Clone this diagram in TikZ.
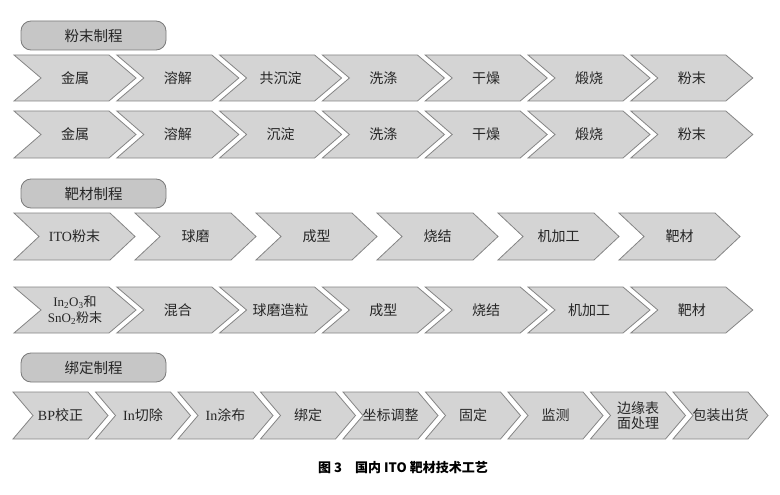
\documentclass[tikz,border=0pt]{standalone}
\usepackage{fontspec}
\setmainfont{Liberation Serif}
\newfontfamily\cjk{Noto Sans CJK SC}
\newcommand\lt[1]{{\rmfamily #1}}
\definecolor{chevfill}{HTML}{D4D4D4}
\definecolor{chevline}{HTML}{858585}
\definecolor{hdrfill}{HTML}{C6C6C6}
\definecolor{hdrline}{HTML}{7A7A7A}
\newcommand\chev[8][]{%
  \draw[chevbox] (#3,#4) -- ++(#5,0) -- ++(#6,#7/2) -- ++(-#6,#7/2) -- ++(-#5,0) -- ++(#6,-#7/2) -- cycle;
  \node[lbl,#1] (#2) at ({#3+(#5+#6)/2},{#4+#7/2}) {#8};}
\begin{document}
\begin{tikzpicture}[x=1pt,y=-1pt,
  chevbox/.style={draw=chevline, fill=chevfill, line width=0.8pt, line join=miter},
  lbl/.style={font=\cjk\fontsize{14}{15}\selectfont, inner sep=0pt, align=center, text=black!85},
  hdr/.style={draw=hdrline, fill=hdrfill, rounded corners=10pt, minimum width=145pt, minimum height=29pt, inner sep=0pt, line width=0.8pt, font=\cjk\fontsize{14.5}{15}\selectfont, text=black!85}]
\fill[white] (0,0) rectangle (780,495);
\useasboundingbox (0,0) rectangle (780,495);
% headers
\node[hdr] (h1) at (93.5,35.5) {粉末制程};
\node[hdr] (h2) at (93.5,193.5) {靶材制程};
\node[hdr] (h3) at (93.5,367.5) {绑定制程};
% row 1
\foreach \t [count=\i from 0] in {金属,溶解,共沉淀,洗涤,干燥,煅烧,粉末}{
  \pgfmathsetmacro\L{14+102.8*\i}
  \chev{pa\i}{\L}{55}{95}{27}{46}{\t}}
% row 2
\foreach \t [count=\i from 0] in {金属,溶解,沉淀,洗涤,干燥,煅烧,粉末}{
  \pgfmathsetmacro\L{14+102.8*\i}
  \chev{pb\i}{\L}{111}{95}{27}{47}{\t}}
% row 3
\foreach \t [count=\i from 0] in {\lt{ITO}粉末,球磨,成型,烧结,机加工,靶材}{
  \pgfmathsetmacro\L{14+121*\i}
  \chev{ta\i}{\L}{213}{96}{25}{47}{\t}}
% row 4
\chev[font=\cjk\fontsize{13}{16}\selectfont]{tb0}{14}{287}{95}{27}{46}{\lt{In\textsubscript{2}O\textsubscript{3}}和\\\lt{SnO\textsubscript{2}}粉末}
\foreach \t [count=\i from 1] in {混合,球磨造粒,成型,烧结,机加工,靶材}{
  \pgfmathsetmacro\L{14+102.8*\i}
  \chev{tb\i}{\L}{287}{95}{27}{46}{\t}}
% row 5
\foreach \t [count=\i from 0] in {\lt{BP}校正,\lt{In}切除,\lt{In}涂布,绑定,坐标调整,固定,监测,{边缘表\\面处理},包装出货}{
  \pgfmathsetmacro\L{13+82.5*\i}
  \chev{ba\i}{\L}{392}{75}{20}{47}{\t}}
% caption
\node[font=\cjk\bfseries\fontsize{13}{14}\selectfont, inner sep=0pt] (cap) at (403,468) {图 3\hspace{1em}国内 ITO 靶材技术工艺};
\end{tikzpicture}
\end{document}
